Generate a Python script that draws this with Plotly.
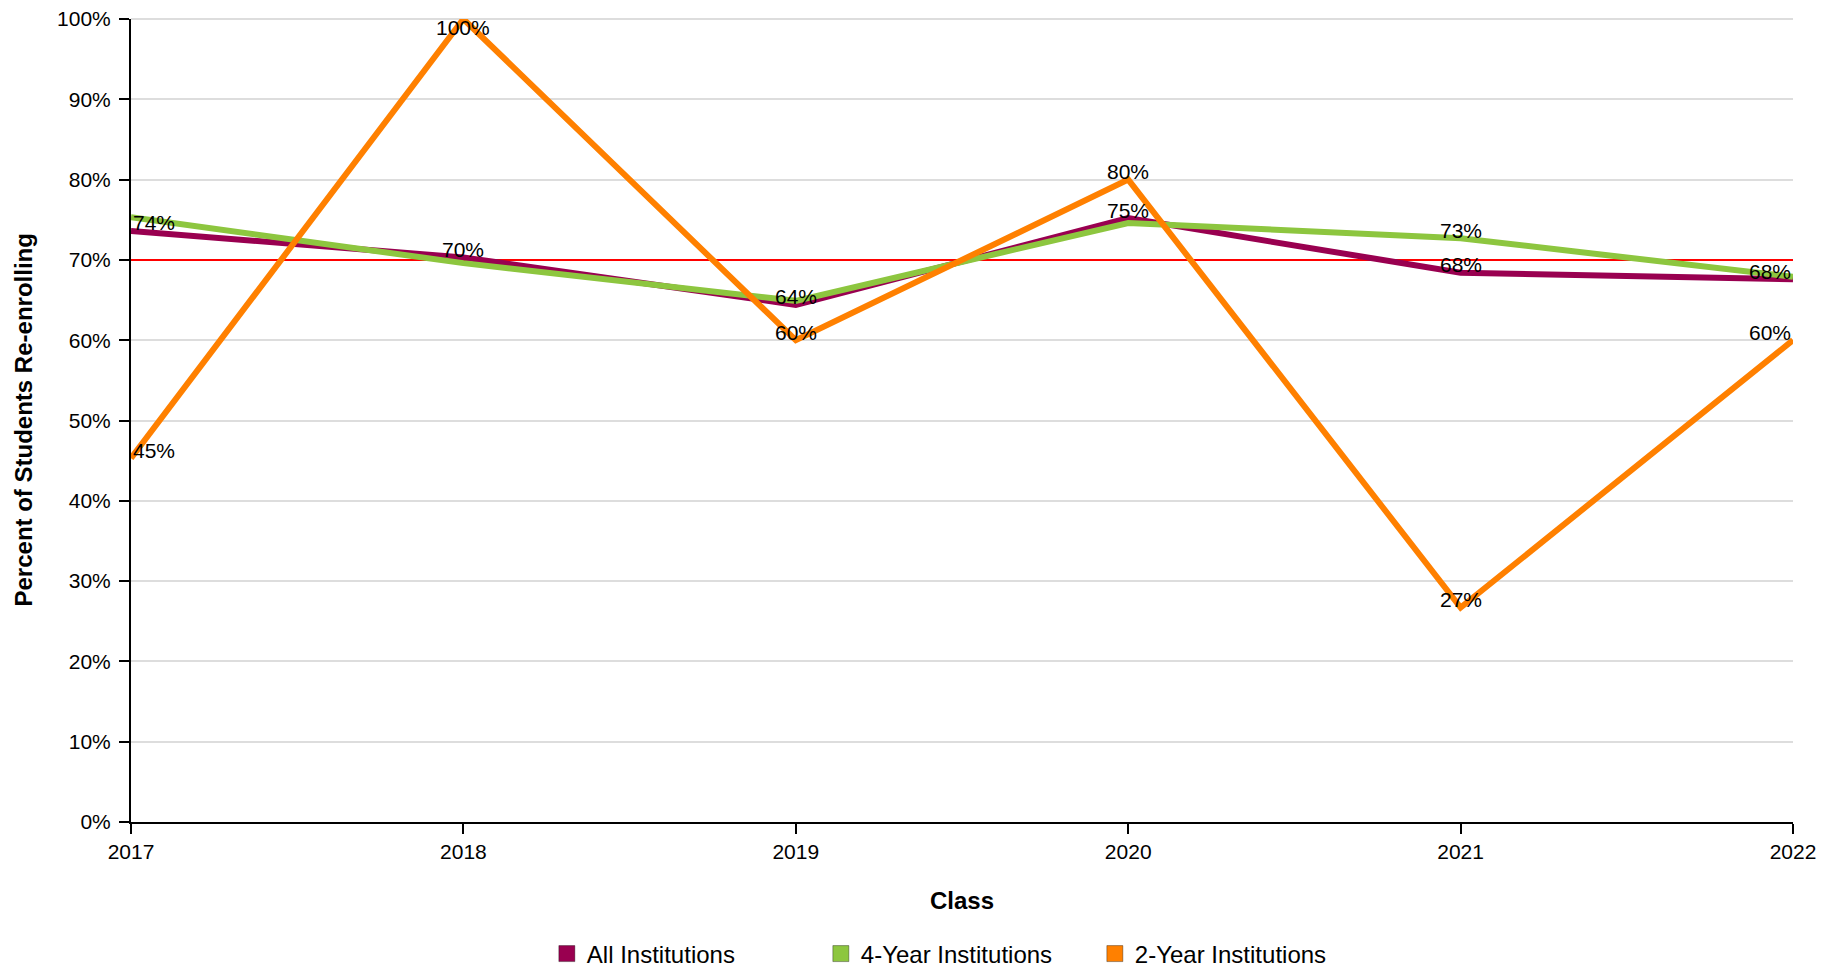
import plotly.graph_objects as go

years = [2017, 2018, 2019, 2020, 2021, 2022]
all_inst = [73.6, 70.3, 64.4, 75.2, 68.4, 67.6]
four_year = [75.3, 69.6, 64.9, 74.6, 72.7, 67.9]
two_year = [45.3, 100.0, 60.0, 80.0, 26.7, 60.0]

# which points carry a value label
all_labels = [True, True, True, True, True, True]
four_labels = [False, False, False, False, True, False]
two_labels = [True, True, True, True, True, True]

series_names = ["All Institutions", "4-Year Institutions", "2-Year Institutions"]
series_colors = ["#990050", "#8dc63f", "#ff8000"]
target = 70
y_ticks = list(range(0, 101, 10))
y_tick_text = [f"{v}%" for v in y_ticks]

FONT = "Liberation Sans, Arial, Helvetica, sans-serif"

fig = go.Figure()

# target reference line (drawn first: above grid, below series)
fig.add_trace(go.Scatter(x=[years[0], years[-1]], y=[target, target], mode="lines",
                         line=dict(color="#ff0000", width=2), showlegend=False,
                         hoverinfo="skip"))

series = [all_inst, four_year, two_year]
labels = [all_labels, four_labels, two_labels]

for name, vals, col in zip(series_names, series, series_colors):
    fig.add_trace(go.Scatter(x=years, y=vals, mode="lines", name=name,
                             line=dict(color=col, width=6), showlegend=False,
                             hoverinfo="skip", cliponaxis=False))

# legend entries as squares
for name, col in zip(series_names, series_colors):
    fig.add_trace(go.Scatter(x=[None], y=[None], mode="markers", name=name,
                             marker=dict(symbol="square", size=16, color=col,
                                         line=dict(color="rgba(0,0,0,0.35)", width=1))))

annotations = []
for vals, show in zip(series, labels):
    for i, (x, v) in enumerate(zip(years, vals)):
        if not show[i]:
            continue
        if i == 0:
            xa = "left"
        elif i == len(years) - 1:
            xa = "right"
        else:
            xa = "center"
        annotations.append(dict(x=x, y=v, xref="x", yref="y", text=f"{round(v)}%",
                                showarrow=False, xanchor=xa, yanchor="middle",
                                yshift=(-8 if v >= 99 else 8),
                                font=dict(family=FONT, size=21, color="#000")))

W, H = 1831, 963
ML, MR, MT, MB = 123, 46, 11, 149
plot_w = W - ML - MR

# y axis title
annotations.append(dict(text="<b>Percent of Students Re-enrolling</b>", textangle=-90,
                        xref="paper", yref="paper", x=-(ML - 15) / plot_w, y=0.5,
                        xanchor="center", yanchor="middle", showarrow=False,
                        font=dict(family=FONT, size=24, color="#000")))

fig.update_layout(
    width=W, height=H,
    margin=dict(l=ML, r=MR, t=MT, b=MB, autoexpand=False),
    paper_bgcolor="white", plot_bgcolor="white",
    font=dict(family=FONT, size=21, color="#000"),
    annotations=annotations,
    shapes=[dict(type="line", xref="paper", yref="paper", x0=0, x1=1, y0=1, y1=1,
                 line=dict(color="#dddddd", width=2), layer="below")],
    legend=dict(orientation="h", x=0.4975, xanchor="center",
                yref="container", y=1 - (946 / H), yanchor="middle",
                font=dict(family=FONT, size=24, color="#000"), entrywidth=229,
                itemclick=False),
    xaxis=dict(range=[2017, 2022], tickvals=years, ticktext=[str(y) for y in years],
               showgrid=False, zeroline=False, showline=True, linecolor="#000", linewidth=2,
               ticks="outside", ticklen=10, tickwidth=2, tickcolor="#000", automargin=False,
               tickfont=dict(family=FONT, size=21, color="#000"),
               title=dict(text="<b>Class</b>", font=dict(family=FONT, size=24, color="#000"),
                          standoff=30)),
    yaxis=dict(range=[0, 100], tickvals=y_ticks, ticktext=y_tick_text,
               showgrid=True, gridcolor="#dddddd", gridwidth=2, zeroline=False,
               showline=True, linecolor="#000", linewidth=2, automargin=False,
               ticks="outside", ticklen=10, tickwidth=2, tickcolor="#000",
               ticklabeloverflow="allow", ticklabelstandoff=4,
               tickfont=dict(family=FONT, size=21, color="#000")),
)

fig.write_html("out.html")
